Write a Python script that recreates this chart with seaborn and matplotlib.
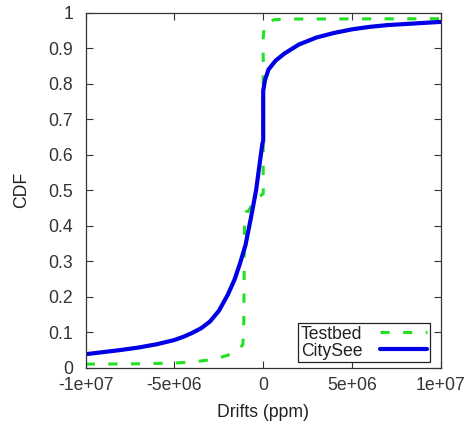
"""CDF of clock drifts: Testbed vs CitySee."""

import pandas as pd
import seaborn as sns
from matplotlib import pyplot as plt

# CitySee curve
citysee_x = [-1e7, -9e6, -8e6, -7e6, -6e6, -5e6, -4.5e6, -4e6, -3.5e6, -3e6,
             -2.5e6, -2e6, -1.6e6, -1.3e6, -1e6, -0.7e6, -0.4e6, -0.2e6, -0.05e6,
             0, 0, 0.1e6, 0.3e6, 0.7e6, 1.2e6, 2e6, 3e6, 4e6, 5e6, 6e6, 7e6,
             8e6, 9e6, 1e7]
citysee_y = [0.038, 0.044, 0.050, 0.057, 0.066, 0.078, 0.087, 0.098, 0.111, 0.130,
             0.160, 0.205, 0.250, 0.295, 0.345, 0.420, 0.500, 0.575, 0.630,
             0.640, 0.780, 0.810, 0.840, 0.865, 0.885, 0.910, 0.930, 0.943, 0.953,
             0.960, 0.965, 0.968, 0.971, 0.974]

# Testbed curve
testbed_x = [-1e7, -7e6, -5e6, -4e6, -3e6, -2.5e6, -2e6, -1.6e6, -1.3e6, -1.15e6,
             -1.1e6, -1.05e6, -0.95e6, -0.85e6, -0.5e6, 0, 0, 0.05e6, 0.2e6,
             0.6e6, 1.5e6, 1e7]
testbed_y = [0.010, 0.011, 0.013, 0.016, 0.022, 0.028, 0.035, 0.045, 0.055, 0.065,
             0.100, 0.420, 0.440, 0.440, 0.470, 0.490, 0.930, 0.955, 0.972,
             0.980, 0.982, 0.983]

x_ticks = [-1e7, -5e6, 0, 5e6, 1e7]
x_tick_labels = ["-1e+07", "-5e+06", "0", "5e+06", "1e+07"]
y_ticks = [0, 0.1, 0.2, 0.3, 0.4, 0.5, 0.6, 0.7, 0.8, 0.9, 1]
y_tick_labels = ["0", "0.1", "0.2", "0.3", "0.4", "0.5", "0.6", "0.7", "0.8", "0.9", "1"]

sns.set_style("ticks")
plt.rcParams["font.family"] = ["Liberation Sans", "DejaVu Sans"]
plt.rcParams["text.color"] = "#222222"
plt.rcParams["axes.labelcolor"] = "#222222"
plt.rcParams["xtick.color"] = "#333333"
plt.rcParams["ytick.color"] = "#333333"

fs = 12.7

testbed = pd.DataFrame({"x": testbed_x, "y": testbed_y})
citysee = pd.DataFrame({"x": citysee_x, "y": citysee_y})

fig, ax = plt.subplots(figsize=(4.72, 4.22), dpi=100)
fig.subplots_adjust(left=0.1816, right=0.9337, top=0.970, bottom=0.1287)

sns.lineplot(data=testbed, x="x", y="y", estimator=None, sort=False, ax=ax,
             color="#22e022", linewidth=2.2, label="Testbed")
ax.lines[-1].set_dashes([3.0, 4.4])
sns.lineplot(data=citysee, x="x", y="y", estimator=None, sort=False, ax=ax,
             color="#0000e6", linewidth=3.0, label="CitySee")

ax.set_xlim(-1e7, 1e7)
ax.set_ylim(0, 1)
ax.set_xticks(x_ticks)
ax.set_xticklabels(x_tick_labels, fontsize=fs)
ax.set_yticks(y_ticks)
ax.set_yticklabels(y_tick_labels, fontsize=fs)
ax.tick_params(direction="in", length=5, width=0.8, top=True, right=True)
ax.tick_params(axis="y", pad=9)
ax.tick_params(axis="x", pad=7)
for s in ax.spines.values():
    s.set_linewidth(0.9)
    s.set_color("#333333")

ax.set_xlabel("Drifts (ppm)", fontsize=fs, labelpad=7)
ax.set_ylabel("CDF", fontsize=fs, labelpad=13)

leg = ax.legend(loc="lower right", bbox_to_anchor=(0.970, 0.0152),
                markerfirst=False, fontsize=fs, frameon=True,
                fancybox=False, edgecolor="#222222", handlelength=2.7,
                borderpad=0.15, labelspacing=0.0, handletextpad=1.0,
                borderaxespad=0, framealpha=1)
leg.get_frame().set_linewidth(0.9)

plt.savefig("out.png", dpi=100)
